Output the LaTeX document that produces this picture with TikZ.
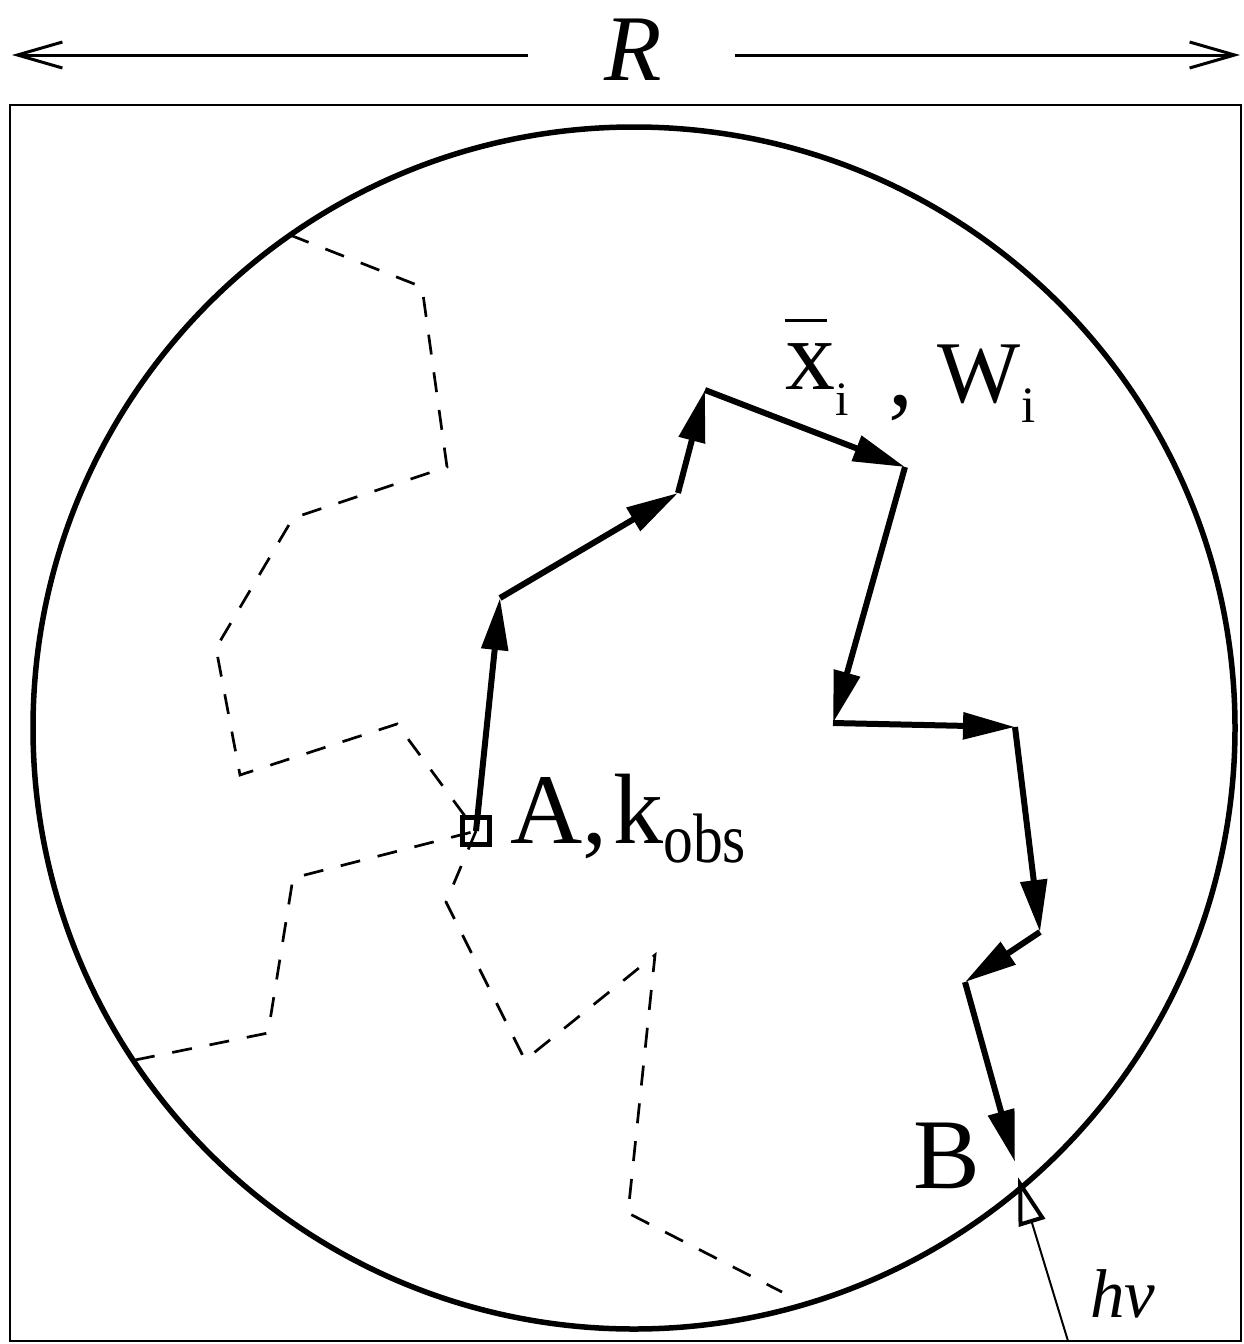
\documentclass[tikz,border=0pt]{standalone}
\usepackage{fontspec}
\usepackage{graphicx}
\setmainfont{Liberation Serif}
\usetikzlibrary{arrows.meta}
\begin{document}
\begin{tikzpicture}[x=1pt,y=-1pt,
  walk/.style={line width=6pt,-{Triangle[length=52pt,width=26pt]}},
  trail/.style={line width=2.7pt,dash pattern=on 20pt off 18pt},
  dimline/.style={line width=3pt,-{Straight Barb[length=45pt,width=26pt,line width=3pt]}},
  lbl/.style={anchor=base west,inner sep=0pt,font=\fontsize{100}{110}\selectfont}]
\useasboundingbox (0,0) rectangle (1243,1344);
% frame and circle
\draw[line width=2.7pt] (10,105) rectangle (1241,1341);
\draw[line width=5.5pt] (634,728) circle[radius=601];
% dimension R
\node[anchor=base,inner sep=0pt,font=\fontsize{94}{100}\selectfont\itshape] (R) at (633,80) {R};
\coordinate (RL1) at (528,55);
\coordinate (RL2) at (12,55);
\coordinate (RR1) at (735,55);
\coordinate (RR2) at (1240,55);
\draw[dimline] (RL1) -- (RL2);
\draw[dimline] (RR1) -- (RR2);
% start point A
\node[draw,line width=4.5pt,minimum size=27pt,inner sep=0pt] (A) at (476,831) {};
% dashed trails
\coordinate (d11) at (397,724);
\coordinate (d12) at (240,775);
\coordinate (d13) at (216,648);
\coordinate (d14) at (293,518);
\coordinate (d15) at (447,467);
\coordinate (d16) at (422,287);
\coordinate (d17) at (290,235);
\draw[trail] (d17) -- (d16) -- (d15) -- (d14) -- (d13) -- (d12) -- (d11) -- (A.center);
\coordinate (d21) at (293,878);
\coordinate (d22) at (268,1033);
\coordinate (d23) at (135,1060);
\draw[trail] (d23) -- (d22) -- (d21) -- (A.center);
\coordinate (d31) at (446,902);
\coordinate (d32) at (525,1060);
\coordinate (d33) at (655,955);
\coordinate (d34) at (628,1213);
\coordinate (d35) at (782,1292);
\draw[trail] (A.center) -- (d31) -- (d32) -- (d33) -- (d34) -- (d35);
% random walk
\coordinate (P1) at (500,598);
\coordinate (P2) at (678,493);
\coordinate (P3) at (705,390);
\coordinate (P4) at (905,467);
\coordinate (P5) at (833,723);
\coordinate (P6) at (1015,727);
\coordinate (P7) at (1040,932);
\coordinate (P8) at (965,982);
\coordinate (B) at (1015,1162);
\draw[walk] (A.center) -- (P1);
\draw[walk] (P1) -- (P2);
\draw[walk] (P2) -- (P3);
\draw[walk] (P3) -- (P4);
\draw[walk] (P4) -- (P5);
\draw[walk] (P5) -- (P6);
\draw[walk] (P6) -- (P7);
\draw[walk] (P7) -- (P8);
\draw[walk] (P8) -- (B);
% photon
\coordinate (ph0) at (1068,1341);
\coordinate (ph1) at (1018,1177);
\draw[line width=2pt,-{Triangle[open,length=48pt,width=27pt,line width=4pt]}] (ph0) -- (ph1);
% labels
\node[lbl] (Alab) at (510,843) {A,\hspace{6pt}k\raisebox{-19pt}{\scalebox{0.85}[1]{\fontsize{70}{75}\selectfont obs}}};
\node[lbl] (xlab) at (785,389) {\rlap{\rule[67pt]{42pt}{3.5pt}}x\raisebox{-26pt}{\fontsize{48}{50}\selectfont i}\hspace{40pt}\raisebox{-16pt}{,}\hspace{24pt}\raisebox{-13pt}{\fontsize{88}{92}\selectfont W}\hspace{1pt}\raisebox{-33pt}{\fontsize{51}{55}\selectfont i}};
\node[lbl] (Blab) at (913,1188) {B};
\node[lbl,font=\fontsize{69}{75}\selectfont\itshape] (hnu) at (1090,1317) {hν};
\end{tikzpicture}
\end{document}
